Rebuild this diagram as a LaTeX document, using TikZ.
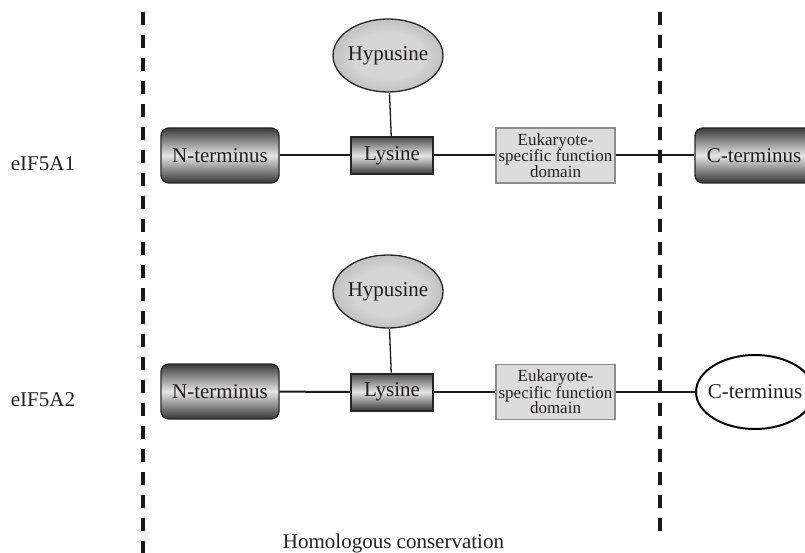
\documentclass[tikz,border=0pt]{standalone}
\usepackage{fontspec}
\setmainfont{Liberation Serif}
\usetikzlibrary{shapes.geometric}
\definecolor{txt}{HTML}{231F20}
\definecolor{darkg}{HTML}{3A3A3A}
\definecolor{lightg}{HTML}{E6E6E6}
\definecolor{eukfill}{HTML}{DCDCDC}
\definecolor{eukdraw}{HTML}{8C8C8C}
\definecolor{hypin}{HTML}{D6D6D6}
\definecolor{hypout}{HTML}{858585}
\pgfdeclareradialshading{hypshade}{\pgfpoint{0bp}{0bp}}{color(0bp)=(hypin); color(16bp)=(hypin); color(50bp)=(hypout)}
\tikzset{
  every node/.style={text=txt, font=\fontsize{21}{24}\selectfont, inner sep=0pt},
  termbox/.style={rectangle, rounded corners=8pt, draw=black!85, line width=1.4pt,
    minimum width=118pt, minimum height=55pt,
    top color=darkg, bottom color=darkg!90!black, middle color=lightg},
  lysbox/.style={rectangle, draw=black!85, line width=2pt,
    minimum width=82pt, minimum height=37pt,
    top color=darkg!90, bottom color=darkg, middle color=lightg},
  hypell/.style={ellipse, draw=black!85, line width=1.3pt, inner xsep=-3pt,
    minimum width=110pt, minimum height=73pt, shading=hypshade},
  eukbox/.style={rectangle, draw=eukdraw, line width=1.3pt, fill=eukfill,
    minimum width=119pt, minimum height=55pt, align=center,
    font=\fontsize{17}{15.5}\selectfont},
  cell/.style={ellipse, draw=black, line width=2pt, fill=white, inner xsep=-6pt,
    minimum width=118pt, minimum height=74pt},
  conn/.style={draw=black!90, line width=2pt},
  stem/.style={draw=black!90, line width=1.3pt},
  dashline/.style={draw=black!90, line width=3.3pt, dash pattern=on 13pt off 10pt},
}
\begin{document}
\begin{tikzpicture}[x=1pt, y=-1pt]
\useasboundingbox (0,0) rectangle (805,553);
\clip (0,0) rectangle (805,553);
% dashed separators
\coordinate (la) at (143,12);
\coordinate (lb) at (143,553);
\coordinate (ra) at (660,12);
\coordinate (rb) at (660,540);
\draw[dashline] (la) -- (lb);
\draw[dashline] (ra) -- (rb);
% row 1
\node (lab1) at (43,164) {eIF5A1};
\node[hypell] (h1) at (388,55.5) {Hypusine};
\node[termbox] (n1) at (220,155.5) {N-terminus};
\node[lysbox] (l1) at (392,155.5) {Lysine};
\node[eukbox] (e1) at (555.5,155.5) {Eukaryote-\\specific function\\domain};
\node[termbox] (c1) at (754,155.5) {C-terminus};
% row 2
\node (lab2) at (43,400) {eIF5A2};
\node[hypell] (h2) at (388,291.5) {Hypusine};
\node[termbox] (n2) at (220,391.5) {N-terminus};
\node[lysbox] (l2) at (392,392) {Lysine};
\node[eukbox] (e2) at (555.5,392) {Eukaryote-\\specific function\\domain};
\node[cell] (c2) at (755,392) {C-terminus};
% connectors
\draw[conn] (n1) -- (l1);
\draw[conn] (l1) -- (e1);
\draw[conn] (e1) -- (c1);
\draw[stem] (h1) -- (l1);
\draw[conn] (n2) -- (l2);
\draw[conn] (l2) -- (e2);
\draw[conn] (e2) -- (c2);
\draw[stem] (h2) -- (l2);
% bottom label
\node (hc) at (393.5,543) {Homologous conservation};
\end{tikzpicture}
\end{document}
